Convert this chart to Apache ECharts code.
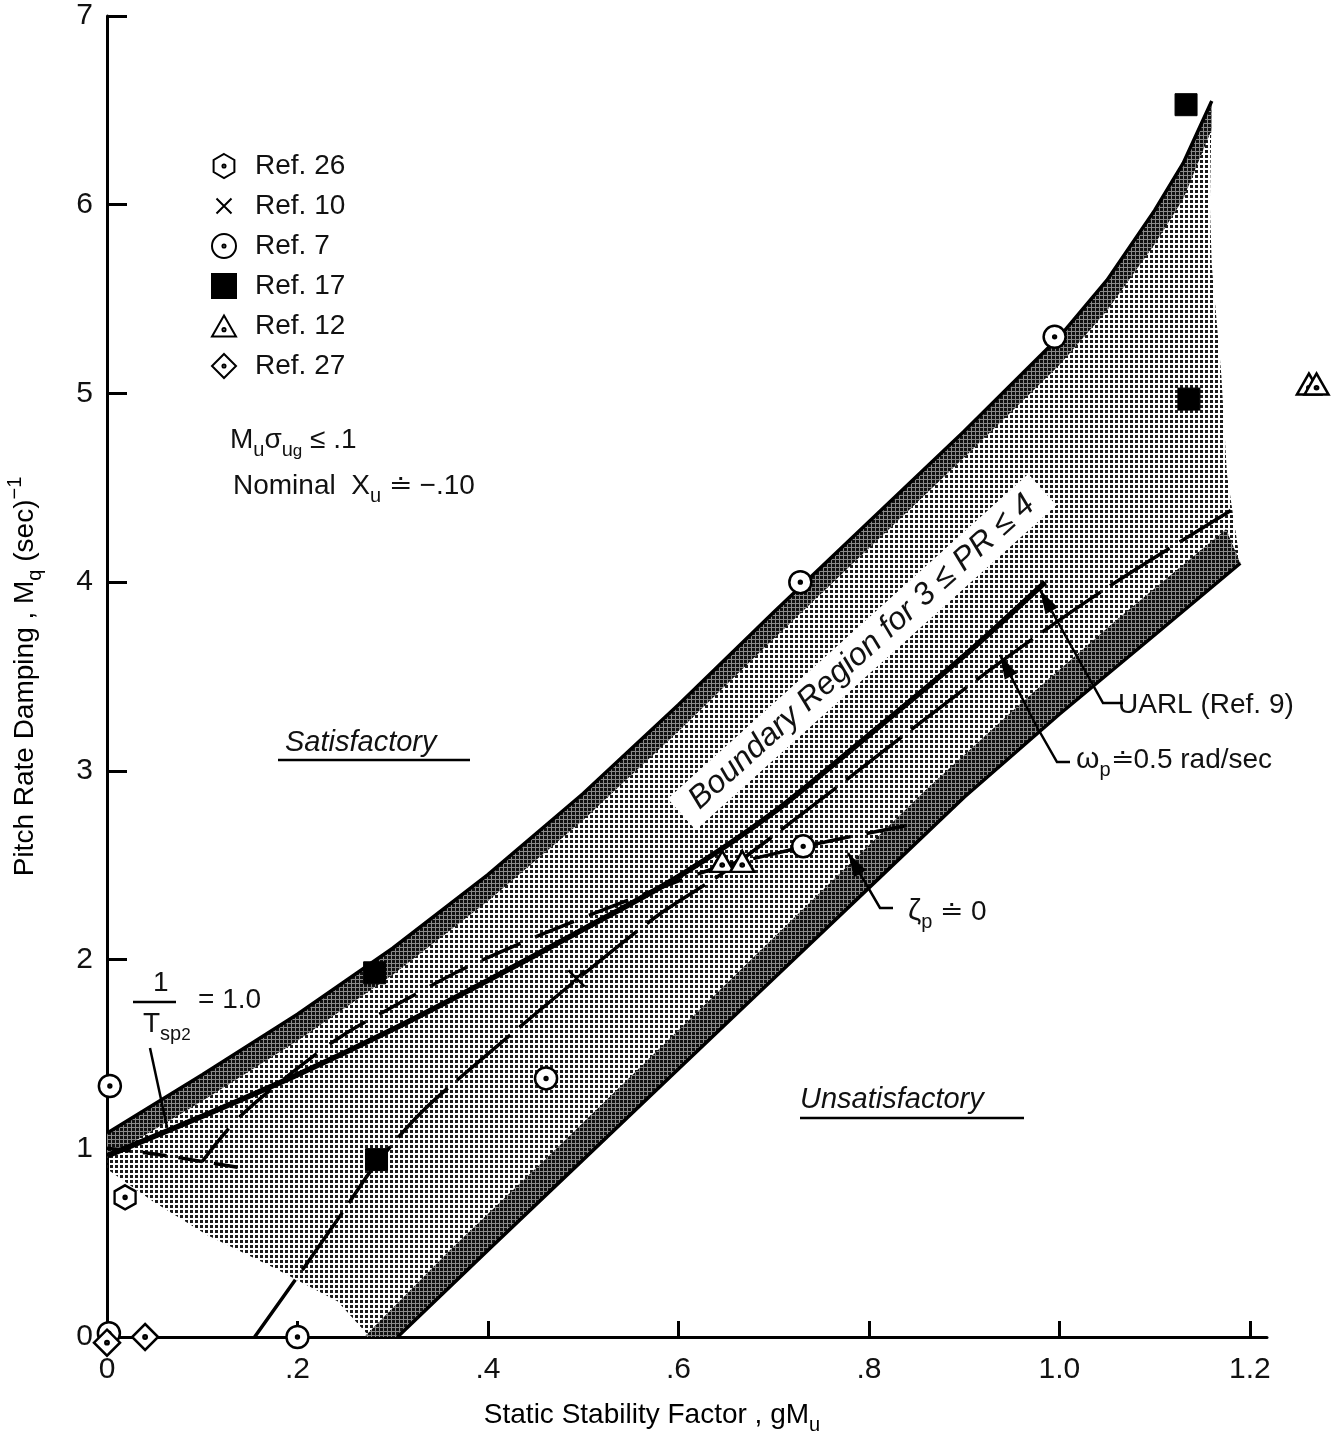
<!DOCTYPE html>
<html>
<head>
<meta charset="utf-8">
<script src="https://cdn.jsdelivr.net/npm/echarts@6/dist/echarts.min.js"></script>
<style>
  html, body { margin: 0; padding: 0; background: #fff; }
  #chart { width: 1343px; height: 1433px; }
</style>
</head>
<body>
<div id="chart"></div>
<script>
// axis ticks
const xTicks = [0, 0.2, 0.4, 0.6, 0.8, 1.0, 1.2];
const yTicks = [0, 1, 2, 3, 4, 5, 6, 7];

// boundary region edges (gM_u, M_q)
const upperEdge = [[0,1.08],[0.1,1.39],[0.2,1.71],[0.3,2.06],[0.4,2.45],[0.5,2.88],[0.6,3.35],[0.7,3.84],[0.8,4.32],[0.9,4.80],[1.0,5.30],[1.05,5.6],[1.1,5.97],[1.13,6.22],[1.16,6.55]];
const upperInner = [[0,0.95],[0.1,1.25],[0.2,1.57],[0.3,1.92],[0.4,2.31],[0.5,2.74],[0.6,3.21],[0.7,3.70],[0.8,4.18],[0.9,4.66],[1.0,5.15],[1.05,5.44],[1.1,5.79],[1.13,6.03],[1.16,6.4]];
const lowerEdge = [[0.305,0],[0.4,0.46],[0.5,0.94],[0.6,1.42],[0.7,1.9],[0.8,2.38],[0.9,2.86],[1.0,3.3],[1.1,3.72],[1.19,4.1]];
const lowerInner = [[0.27,0],[0.36,0.46],[0.46,0.94],[0.56,1.43],[0.66,1.92],[0.76,2.41],[0.86,2.9],[0.96,3.36],[1.06,3.8],[1.175,4.28]];
const shadeRight = [[1.16,6.55],[1.158,6.0],[1.16,5.68],[1.17,5.1],[1.176,4.57],[1.19,4.1]];
const shadeLeft = [[0.276,0],[0.242,0.19],[0.174,0.37],[0.105,0.54],[0.048,0.72],[0,0.89]];

// criterion lines
const omegaLine = [[0,0.96],[0.1,1.17],[0.2,1.39],[0.3,1.63],[0.4,1.89],[0.5,2.16],[0.6,2.44],[0.7,2.78],[0.8,3.19],[0.9,3.61],[0.985,4.0]];
const uarlLine = [[0.155,0],[0.21,0.39],[0.25,0.68],[0.28,0.9],[0.33,1.19],[0.4,1.5],[0.49,1.88],[0.58,2.24],[0.65,2.47],[0.75,2.85],[0.85,3.24],[0.95,3.62],[1.05,3.97],[1.18,4.38]];
const zetaLine = [[0.1,0.93],[0.136,1.15],[0.189,1.38],[0.245,1.59],[0.311,1.78],[0.374,1.95],[0.45,2.12],[0.55,2.32],[0.636,2.48],[0.7,2.56],[0.76,2.63],[0.84,2.71]];
const tspLine = [[0,1.0],[0.05,0.97],[0.1,0.93],[0.148,0.89]];

// data points by reference
const ref26 = [[0.019,0.74]];
const ref10 = [[0.493,1.9]];
const ref7 = [[0.003,1.33],[0.728,4.0],[0.995,5.3],[0.461,1.37],[0.731,2.6],[0.2,0],[0.002,0.02]];
const ref17 = [[0.281,1.93],[0.283,0.94],[1.133,6.53],[1.136,4.97]];
const ref12 = [[0.646,2.52],[0.667,2.52],[1.262,5.05],[1.27,5.05]];
const ref27 = [[0,-0.03],[0.04,0]];

const FONT = 'Liberation Sans, Arial, sans-serif';

function makePattern(size, bg, dot, dotColor) {
  const c = document.createElement('canvas');
  c.width = size; c.height = size;
  const ctx = c.getContext('2d');
  if (bg) { ctx.fillStyle = bg; ctx.fillRect(0, 0, size, size); }
  ctx.fillStyle = dotColor;
  ctx.fillRect(0, 0, dot, dot);
  return { image: c, repeat: 'repeat' };
}
const lightFill = makePattern(5, null, 3, '#1a1a1a');
const darkFill = makePattern(4, '#8a8a8a', 3, '#111');

const dot = 'M0,-1.3A1.3,1.3,0,1,1,0,1.3A1.3,1.3,0,1,1,0,-1.3Z';
const symCircle = 'path://M0,-10A10,10,0,1,1,0,10A10,10,0,1,1,0,-10Z' + dot;
const symHex = 'path://M0,-10L8.66,-5L8.66,5L0,10L-8.66,5L-8.66,-5Z' + dot;
const symTri = 'path://M0,-10L10,7.5L-10,7.5Z' + 'M0,0.5A1.3,1.3,0,1,1,0,3.1A1.3,1.3,0,1,1,0,0.5Z';
const symDiamond = 'path://M0,-10L10,0L0,10L-10,0Z' + dot;
const symCross = 'path://M-16,-16M-10,-10L10,10M10,-10L-10,10M16,16';

function regionSeries(points, fill, z) {
  return {
    type: 'custom',
    silent: true,
    z: z,
    data: points,
    encode: { x: 0, y: 1 },
    renderItem: function (params, api) {
      if (params.dataIndex !== 0) return null;
      return {
        type: 'polygon',
        shape: { points: points.map(p => api.coord(p)) },
        style: { fill: fill, stroke: null }
      };
    }
  };
}

function lineSeries(data, width, type, z, smooth) {
  return {
    type: 'line',
    data: data,
    symbol: 'none',
    smooth: smooth,
    silent: true,
    z: z || 4,
    lineStyle: { color: '#000', width: width, type: type, cap: 'butt' }
  };
}

function pointSeries(name, data, symbol, size, filled) {
  return {
    name: name,
    type: 'scatter',
    data: data,
    symbol: symbol,
    symbolSize: size,
    clip: false,
    z: 6,
    itemStyle: filled
      ? { color: '#000', borderColor: '#000', borderWidth: 1, opacity: 1 }
      : { color: '#fff', borderColor: '#000', borderWidth: 2.5, opacity: 1 }
  };
}

const lightRegion = upperEdge
  .concat(shadeRight.slice(1))
  .concat(lowerEdge.slice().reverse().slice(1))
  .concat(shadeLeft);
const upperBand = upperEdge.concat(upperInner.slice().reverse());
const lowerBand = lowerEdge.concat(lowerInner.slice().reverse());

// leader line with optional arrow head
function leader(points, head) {
  const els = [{
    type: 'polyline', z: 20,
    shape: { points: points },
    style: { stroke: '#000', lineWidth: 2.5, fill: null }
  }];
  if (head) {
    const a = points[points.length - 2], b = points[points.length - 1];
    const dx = b[0] - a[0], dy = b[1] - a[1];
    const len = Math.sqrt(dx * dx + dy * dy);
    const ux = dx / len, uy = dy / len;
    const L = 24, W = 7;
    els.push({
      type: 'polygon', z: 20,
      shape: { points: [b, [b[0] - ux * L - uy * W, b[1] - uy * L + ux * W], [b[0] - ux * L + uy * W, b[1] - uy * L - ux * W]] },
      style: { fill: '#000' }
    });
  }
  return els;
}

function label(x, y, text, rich, extra) {
  return {
    type: 'text', z: 20, x: x, y: y,
    style: Object.assign({
      text: text,
      fontFamily: FONT,
      fontSize: 28,
      fill: '#111',
      verticalAlign: 'middle',
      rich: rich || {}
    }, extra || {})
  };
}

const subRich = {
  n: { fontFamily: FONT, fontSize: 28, lineHeight: 40, verticalAlign: 'middle' },
  s: { fontFamily: FONT, fontSize: 20, lineHeight: 14, verticalAlign: 'bottom' },
  ss: { fontFamily: FONT, fontSize: 17, lineHeight: 2, verticalAlign: 'bottom' }
};

const graphics = []
  .concat([
    label(230, 440, '{n|M}{s|u}{n|σ}{s|u}{ss|g}{n| ≤ .1}', subRich),
    label(233, 486, '{n|Nominal  X}{s|u}{n| ≐ −.10}', subRich),
    label(285, 743, 'Satisfactory', null, { fontStyle: 'italic', fontSize: 29 }),
    { type: 'line', z: 20, shape: { x1: 278, y1: 760, x2: 470, y2: 760 }, style: { stroke: '#000', lineWidth: 2.5 } },
    label(800, 1100, 'Unsatisfactory', null, { fontStyle: 'italic', fontSize: 29 }),
    { type: 'line', z: 20, shape: { x1: 800, y1: 1118, x2: 1024, y2: 1118 }, style: { stroke: '#000', lineWidth: 2.5 } },
    {
      type: 'text', z: 15, x: 862, y: 652, rotation: 42 * Math.PI / 180,
      style: {
        text: 'Boundary Region for 3 ≤ PR ≤ 4',
        fontFamily: FONT, fontSize: 32, fontStyle: 'italic', fill: '#111',
        align: 'center', verticalAlign: 'middle',
        backgroundColor: '#fff', padding: [6, 16, 4, 16]
      }
    },
    label(1118, 705, 'UARL (Ref. 9)'),
    label(1076, 760, '{w|ω}{s|p}{n|≐0.5 rad/sec}', Object.assign({ w: { fontFamily: FONT, fontSize: 30, lineHeight: 40 } }, subRich)),
    label(908, 912, '{w|ζ}{s|p}{n| ≐ 0}', Object.assign({ w: { fontFamily: FONT, fontSize: 30, lineHeight: 40 } }, subRich)),
    label(153, 983, '1', null, { fontSize: 28 }),
    { type: 'line', z: 20, shape: { x1: 133, y1: 1002, x2: 176, y2: 1002 }, style: { stroke: '#000', lineWidth: 2.5 } },
    label(143, 1024, '{n|T}{s|sp}{ss|2}', subRich),
    label(198, 1000, '= 1.0')
  ])
  .concat(leader([[1123, 703], [1103, 703], [1040, 590]], true))
  .concat(leader([[1070, 762], [1057, 762], [1037, 727], [1000, 655]], true))
  .concat(leader([[893, 908], [880, 908], [848, 853]], true))
  .concat(leader([[150, 1048], [167, 1127]], false));

const chart = echarts.init(document.getElementById('chart'));

const option = {
  animation: false,
  backgroundColor: '#fff',
  grid: { left: 107, right: 76, top: 16, bottom: 96, containLabel: false, outerBoundsMode: 'none' },
  legend: {
    orient: 'vertical',
    left: 206,
    top: 147,
    itemWidth: 24,
    itemHeight: 24,
    itemGap: 12,
    selectedMode: false,
    data: ['Ref. 26', 'Ref. 10', 'Ref. 7', 'Ref. 17', 'Ref. 12', 'Ref. 27'],
    textStyle: { fontFamily: FONT, fontSize: 28, lineHeight: 28, color: '#111', padding: [0, 0, 0, 14] }
  },
  xAxis: {
    type: 'value',
    min: 0,
    max: 1.218,
    name: '{n|Static Stability Factor , gM}{s|u}',
    nameLocation: 'middle',
    nameGap: 58,
    nameTextStyle: { rich: subRich, padding: [0, 70, 0, 0] },
    axisLine: { onZero: false, lineStyle: { color: '#000', width: 3 } },
    axisTick: { inside: true, length: 16, customValues: xTicks, lineStyle: { color: '#000', width: 3 } },
    axisLabel: {
      customValues: xTicks,
      margin: 18,
      fontFamily: FONT,
      fontSize: 30,
      color: '#111',
      formatter: function (v) {
        const r = Math.round(v * 10) / 10;
        if (r === 0) return '0';
        if (r >= 1) return r.toFixed(1);
        return r.toFixed(1).replace(/^0/, '');
      }
    },
    splitLine: { show: false }
  },
  yAxis: {
    type: 'value',
    min: 0,
    max: 7,
    name: '{n|Pitch Rate Damping , M}{s|q}{n| (sec)}{p|−1}',
    nameLocation: 'middle',
    nameGap: 62,
    nameRotate: 90,
    nameTextStyle: {
      rich: Object.assign({ p: { fontFamily: FONT, fontSize: 20, lineHeight: 14, verticalAlign: 'top' } }, subRich)
    },
    axisLine: { onZero: false, lineStyle: { color: '#000', width: 3 } },
    axisTick: { inside: true, length: 20, customValues: yTicks, lineStyle: { color: '#000', width: 3 } },
    axisLabel: { customValues: yTicks, margin: 14, fontFamily: FONT, fontSize: 30, color: '#111' },
    splitLine: { show: false }
  },
  graphic: { elements: graphics },
  series: [
    regionSeries(lightRegion, lightFill, 1),
    regionSeries(upperBand, darkFill, 2),
    regionSeries(lowerBand, darkFill, 2),
    lineSeries(upperEdge, 3.5, 'solid', 3, false),
    lineSeries(lowerEdge, 3.5, 'solid', 3, false),
    lineSeries(omegaLine, 5.5, 'solid', 4, 0.3),
    lineSeries(uarlLine, 3.5, [70, 12], 4, 0.3),
    lineSeries(zetaLine, 3.5, [42, 16], 4, 0.3),
    lineSeries(tspLine, 3.5, [24, 12], 4, 0.3),
    pointSeries('Ref. 26', ref26, symHex, [21, 24], false),
    pointSeries('Ref. 10', ref10, symCross, 26, false),
    pointSeries('Ref. 7', ref7, symCircle, 22, false),
    pointSeries('Ref. 17', ref17, 'rect', 22, true),
    pointSeries('Ref. 12', ref12, symTri, [24, 21], false),
    pointSeries('Ref. 27', ref27, symDiamond, 26, false)
  ]
};

chart.setOption(option);
window.addEventListener('resize', function () { chart.resize(); });
</script>
</body>
</html>
